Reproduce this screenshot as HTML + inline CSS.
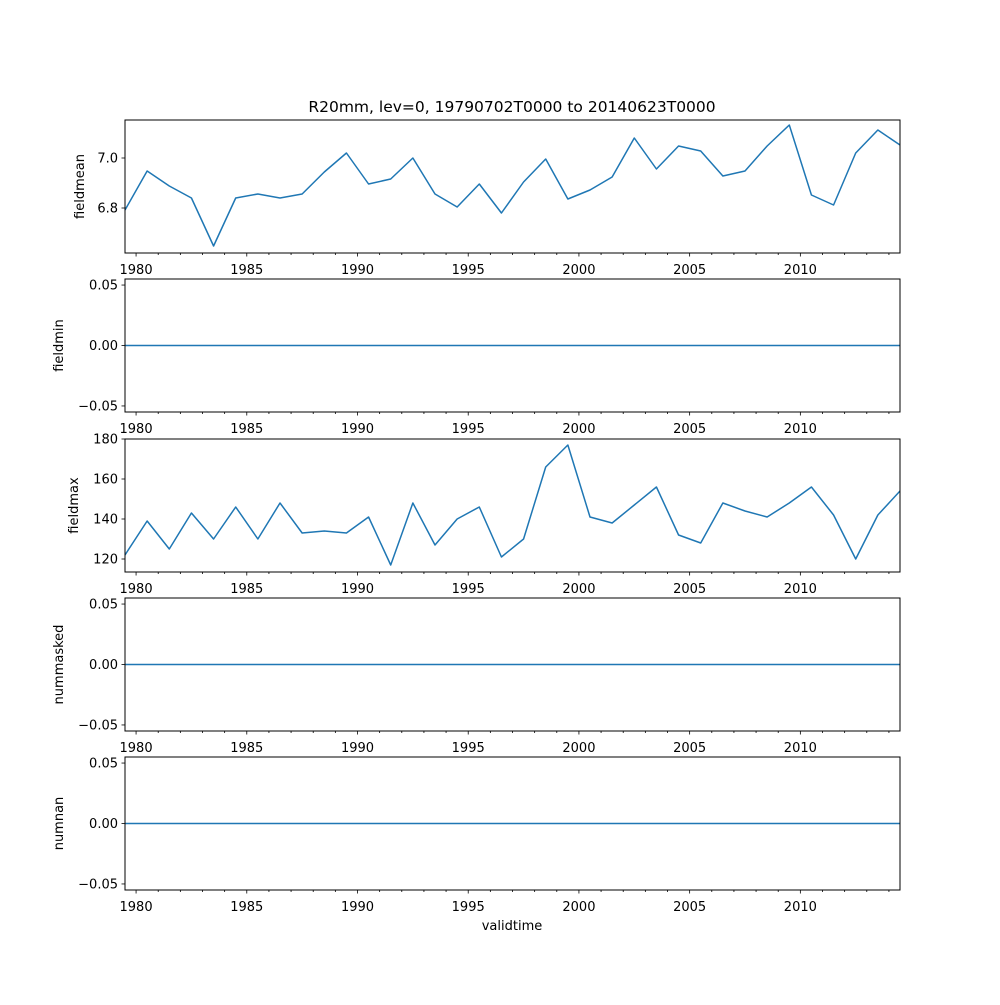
<!DOCTYPE html>
<html><head><meta charset="utf-8"><style>
html,body{margin:0;padding:0;background:#fff}
svg text{font-family:"DejaVu Sans","Liberation Sans",sans-serif;font-size:13px;fill:#000}
</style></head><body>
<svg id="chart" width="1000" height="1000" xmlns="http://www.w3.org/2000/svg">
<text x="512" y="112" text-anchor="middle" style="font-size:15.5px">R20mm, lev=0, 19790702T0000 to 20140623T0000</text>
<text x="512" y="930" text-anchor="middle">validtime</text>
</svg>
<script>
const years = [];
for (let i = 0; i < 36; i++) years.push(1979.5 + i);
const fieldmean = [6.792,6.948,6.888,6.84,6.648,6.84,6.856,6.84,6.856,6.944,7.02,6.896,6.916,7.0,6.856,6.804,6.896,6.78,6.904,6.996,6.836,6.872,6.924,7.08,6.956,7.048,7.028,6.928,6.948,7.048,7.132,6.852,6.812,7.02,7.112,7.052];
const fieldmin = new Array(36).fill(0);
const fieldmax = [122,139,125,143,130,146,130,148,133,134,133,141,117,148,127,140,146,121,130,166,177,141,138,147,156,132,128,148,144,141,148,156,142,120,142,154];
const nummasked = new Array(36).fill(0);
const numnan = new Array(36).fill(0);
const xTickLabels = [1980,1985,1990,1995,2000,2005,2010];
const meanTicks = [6.8,7.0];
const maxTicks = [120,140,160,180];
const zeroTicks = [-0.05,0,0.05];

const svg = document.getElementById('chart');
const NS = 'http://www.w3.org/2000/svg';
const L = 125, R = 900;
const X0 = 1979.5, X1 = 2014.5;
function xs(v){ return L + (v - X0) / (X1 - X0) * (R - L); }
function mk(tag, attrs){ const e = document.createElementNS(NS, tag); for (const k in attrs) e.setAttribute(k, attrs[k]); svg.appendChild(e); return e; }
function fmt(v, d){ return v < 0 ? '\u2212' + Math.abs(v).toFixed(d) : v.toFixed(d); }

const panels = [
  {name:'fieldmean', data:fieldmean, top:120, bot:253, lo:6.62, hi:7.152, ticks:meanTicks, dec:1, lx:84},
  {name:'fieldmin', data:fieldmin, top:279, bot:412, lo:-0.055, hi:0.055, ticks:zeroTicks, dec:2, lx:63},
  {name:'fieldmax', data:fieldmax, top:439, bot:572, lo:113.5, hi:180, ticks:maxTicks, dec:0, lx:78},
  {name:'nummasked', data:nummasked, top:598, bot:731, lo:-0.055, hi:0.055, ticks:zeroTicks, dec:2, lx:63},
  {name:'numnan', data:numnan, top:757, bot:890, lo:-0.055, hi:0.055, ticks:zeroTicks, dec:2, lx:63}
];

panels.forEach(p => {
  const ys = v => p.bot - (v - p.lo) / (p.hi - p.lo) * (p.bot - p.top);
  const pts = years.map((y, i) => xs(y).toFixed(2) + ',' + ys(p.data[i]).toFixed(2)).join(' ');
  const line = mk('polyline', {points: pts, fill:'none', stroke:'#1f77b4', 'stroke-width':1.5, 'stroke-linejoin':'round'});
  
  
  const frame = mk('rect', {x:L, y:p.top, width:R-L, height:p.bot-p.top, fill:'none', stroke:'#000', 'stroke-width':1});
  
  
  for (let yr = 1980; yr <= 2014; yr++) {
    const x = xs(yr);
    const major = yr % 5 === 0;
    const t = mk('line', {x1:x, x2:x, y1:p.bot, y2:p.bot + (major ? 3.5 : 2), stroke:'#000', 'stroke-width':0.8});
    
    
  }
  xTickLabels.forEach(yr => {
    const tx = mk('text', {x:xs(yr), y:p.bot + 21, 'text-anchor':'middle'});
    tx.textContent = yr;
    
    
  });
  p.ticks.forEach(v => {
    const y = ys(v);
    const t = mk('line', {x1:L-3.5, x2:L, y1:y, y2:y, stroke:'#000', 'stroke-width':0.8});
    
    
    const tx = mk('text', {x:L-7, y:y+4.5, 'text-anchor':'end'});
    tx.textContent = fmt(v, p.dec);
    
    
  });
  const cy = (p.top + p.bot) / 2;
  const yl = mk('text', {x:p.lx, y:cy, 'text-anchor':'middle', transform:'rotate(-90 ' + p.lx + ' ' + cy + ')'});
  yl.textContent = p.name;
  
  
});
</script>
</body></html>
